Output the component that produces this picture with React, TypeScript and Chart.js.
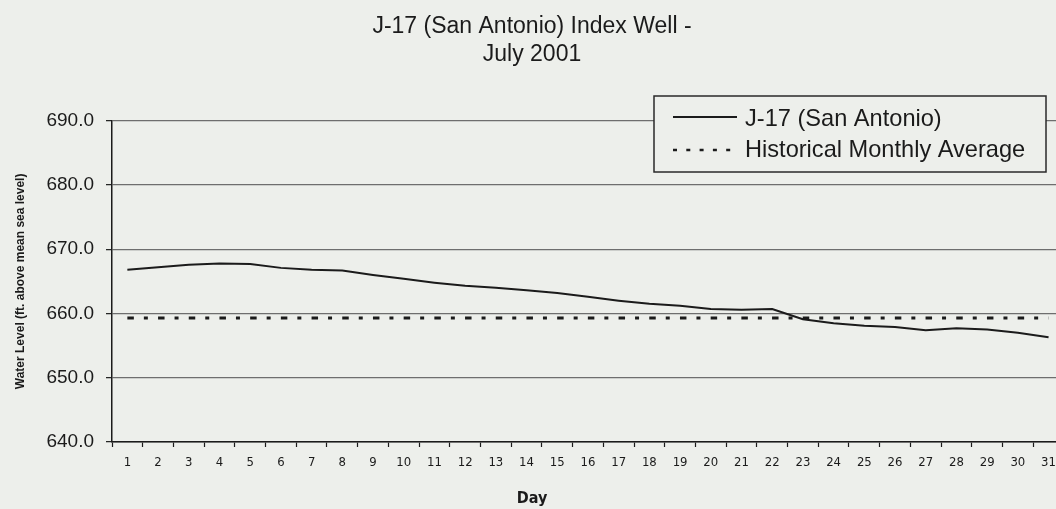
import React, { useEffect, useRef } from "react";
import { Chart, registerables } from "chart.js";

Chart.register(...registerables);

const days = [
  "1", "2", "3", "4", "5", "6", "7", "8", "9", "10", "11", "12", "13", "14", "15", "16",
  "17", "18", "19", "20", "21", "22", "23", "24", "25", "26", "27", "28", "29", "30", "31",
];

const j17Levels = [
  666.8, 667.2, 667.6, 667.8, 667.7, 667.1, 666.8, 666.7, 666.0, 665.4, 664.8,
  664.3, 664.0, 663.6, 663.2, 662.6, 662.0, 661.5, 661.2, 660.7, 660.6, 660.7,
  659.1, 658.5, 658.1, 657.9, 657.4, 657.7, 657.5, 657.0, 656.3,
];

const historicalAverage = [
  659.3, 659.3, 659.3, 659.3, 659.3, 659.3, 659.3, 659.3, 659.3, 659.3, 659.3,
  659.3, 659.3, 659.3, 659.3, 659.3, 659.3, 659.3, 659.3, 659.3, 659.3, 659.3,
  659.3, 659.3, 659.3, 659.3, 659.3, 659.3, 659.3, 659.3, 659.3,
];

const seriesLabels = ["J-17 (San Antonio)", "Historical Monthly Average"];
const titleLines = ["J-17 (San Antonio) Index Well -", "July 2001"];
const yAxisTitle = "Water Level (ft. above mean sea level)";
const xAxisTitle = "Day";
const yMin = 640;
const yMax = 690;
const yStep = 10;

const BG = "#edefeb";
const INK = "#1b1b1b";
const SANS = '"Liberation Sans", Arial, Helvetica, sans-serif';
const NARROW = '"Liberation Sans Narrow", "DejaVu Sans Condensed", "Liberation Sans", sans-serif';

const boxLegend = {
  id: "boxLegend",
  afterDraw(chart: any) {
    const ctx = chart.ctx as CanvasRenderingContext2D;
    const bx = 654, by = 96, bw = 392, bh = 76;
    ctx.save();
    ctx.fillStyle = BG;
    ctx.fillRect(bx, by, bw, bh);
    ctx.strokeStyle = "#2a2a2a";
    ctx.lineWidth = 1.5;
    ctx.strokeRect(bx, by, bw, bh);
    const rows = [
      { lineY: 117, textY: 119, dash: [] as number[], width: 2 },
      { lineY: 150, textY: 150, dash: [4, 9.3], width: 2.5 },
    ];
    chart.data.datasets.forEach((ds: any, i: number) => {
      const r = rows[i];
      ctx.beginPath();
      ctx.setLineDash(r.dash);
      ctx.strokeStyle = INK;
      ctx.lineWidth = r.width;
      ctx.moveTo(673, r.lineY);
      ctx.lineTo(737, r.lineY);
      ctx.stroke();
      ctx.setLineDash([]);
      ctx.fillStyle = INK;
      ctx.font = `23.6px ${SANS}`;
      ctx.textBaseline = "middle";
      ctx.textAlign = "left";
      ctx.fillText(ds.label, 745, r.textY);
    });
    ctx.restore();
  },
};

export default function App() {
  const ref = useRef<HTMLCanvasElement | null>(null);

  useEffect(() => {
    if (!ref.current) return;
    const chart = new Chart(ref.current, {
      type: "line",
      data: {
        labels: days,
        datasets: [
          {
            label: seriesLabels[0],
            data: j17Levels,
            borderColor: INK,
            borderWidth: 2,
            pointRadius: 0,
            tension: 0,
            fill: false,
          },
          {
            label: seriesLabels[1],
            data: historicalAverage,
            borderColor: INK,
            borderWidth: 3,
            borderDash: [6.5, 10, 4, 10.2],
            pointRadius: 0,
            tension: 0,
            fill: false,
          },
        ],
      },
      options: {
        animation: false,
        responsive: false,
        maintainAspectRatio: false,
        layout: { padding: 0 },
        plugins: {
          legend: { display: false },
          tooltip: { enabled: false },
          title: {
            display: true,
            text: titleLines,
            color: INK,
            font: { family: SANS, size: 23, weight: "normal", lineHeight: 1.24 },
            padding: { top: 12.25, bottom: 51.45 },
          },
          subtitle: {
            display: true,
            position: "bottom",
            text: xAxisTitle,
            color: INK,
            font: { family: NARROW, size: 16, weight: "bold", lineHeight: 1.2 },
            padding: { top: 0, bottom: 1 },
          },
        },
        scales: {
          x: {
            type: "category",
            offset: true,
            grid: {
              offset: true,
              drawOnChartArea: false,
              drawTicks: true,
              tickLength: 5,
              tickColor: INK,
              tickWidth: 1.2,
            },
            border: { display: true, color: INK, width: 1.5 },
            ticks: {
              color: INK,
              font: { family: NARROW, size: 13, lineHeight: 1.2 },
              padding: 8,
              maxRotation: 0,
              autoSkip: false,
            },
            afterFit: (scale: any) => {
              scale.height = 46.8;
            },
          },
          y: {
            min: yMin,
            max: yMax,
            grid: {
              color: "#6e6e6e",
              lineWidth: 1.3,
              drawTicks: true,
              tickLength: 6,
              tickColor: INK,
              tickWidth: 1.2,
            },
            border: { display: true, color: INK, width: 1.5 },
            ticks: {
              stepSize: yStep,
              color: INK,
              padding: 12,
              font: { family: SANS, size: 19 },
              callback: (v: any) => Number(v).toFixed(1),
            },
            title: {
              display: true,
              text: yAxisTitle,
              color: INK,
              font: { family: SANS, size: 12, weight: "bold", lineHeight: 1.2 },
              padding: { top: 13, bottom: 0 },
            },
            afterFit: (scale: any) => {
              scale.width = 112;
            },
          },
        },
      },
      plugins: [boxLegend],
    });
    return () => chart.destroy();
  }, []);

  return (
    <div
      style={{
        position: "fixed",
        left: 0,
        top: 0,
        width: 1056,
        height: 509,
        overflow: "hidden",
        background: BG,
      }}
    >
      <canvas
        ref={ref}
        width={1064}
        height={509}
        style={{ width: 1064, height: 509, display: "block" }}
      />
    </div>
  );
}
